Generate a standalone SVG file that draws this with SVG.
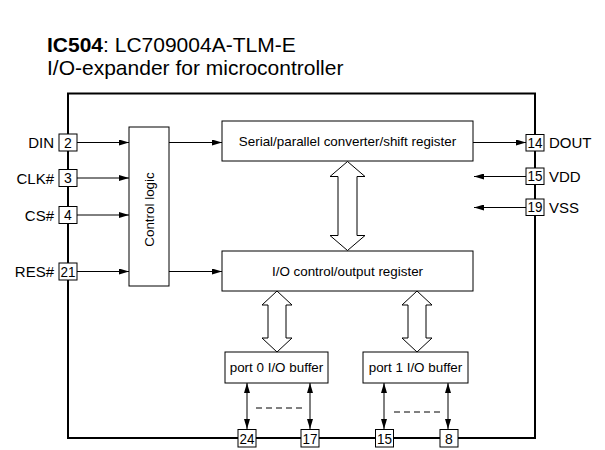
<svg xmlns="http://www.w3.org/2000/svg" width="605" height="450" viewBox="0 0 605 450">
<style>
text{font-family:"Liberation Sans",Arial,sans-serif;fill:#000}
.box{fill:#fff;stroke:#000;stroke-width:1}
.pin{fill:#fff;stroke:#000;stroke-width:1}
.ln{stroke:#000;stroke-width:1;fill:none}
.big{fill:#fff;stroke:#000;stroke-width:1}
.lbl{font-size:15px}
.num{font-size:14px}
.blk{font-size:13.4px}
</style>
<defs>
<marker id="ah" viewBox="0 0 10 6" refX="10" refY="3" markerWidth="10" markerHeight="6" markerUnits="userSpaceOnUse" orient="auto-start-reverse">
<path d="M0,0 L10,3 L0,6 Z" fill="#000"/>
</marker>
</defs>
<rect width="605" height="450" fill="#fff"/>
<g id="title">
<text x="47" y="52" font-size="21"><tspan font-weight="bold">IC504</tspan>: LC709004A-TLM-E</text>
<text x="47" y="75" font-size="21">I/O-expander for microcontroller</text>
</g>
<g id="chip">
<rect x="68" y="93.5" width="467" height="344.5" fill="none" stroke="#000" stroke-width="2"/>
</g>
<g id="connectors">
<line class="ln" x1="77" y1="142.5" x2="129" y2="142.5" marker-end="url(#ah)"/>
<line class="ln" x1="77" y1="178" x2="129" y2="178" marker-end="url(#ah)"/>
<line class="ln" x1="77" y1="215" x2="129" y2="215" marker-end="url(#ah)"/>
<line class="ln" x1="77" y1="271.5" x2="129" y2="271.5" marker-end="url(#ah)"/>
<line class="ln" x1="169" y1="142.5" x2="222" y2="142.5" marker-end="url(#ah)"/>
<line class="ln" x1="169" y1="271.5" x2="222" y2="271.5" marker-end="url(#ah)"/>
<line class="ln" x1="473" y1="142.5" x2="526" y2="142.5" marker-end="url(#ah)"/>
<line class="ln" x1="526" y1="176.5" x2="474" y2="176.5" marker-end="url(#ah)"/>
<line class="ln" x1="526" y1="207.5" x2="474" y2="207.5" marker-end="url(#ah)"/>
<polygon class="big" points="347.5,161.5 365,176.5 357,176.5 357,235.5 365,235.5 347.5,250.5 330,235.5 338,235.5 338,176.5 330,176.5"/>
<polygon class="big" points="277,291 292,305 286,305 286,338 292,338 277,352 262,338 268,338 268,305 262,305"/>
<polygon class="big" points="417,291 432,305 426,305 426,338 432,338 417,352 402,338 408,338 408,305 402,305"/>
<line class="ln" x1="247" y1="383" x2="247" y2="429" marker-start="url(#ah)" marker-end="url(#ah)"/>
<line class="ln" x1="310" y1="383" x2="310" y2="429" marker-start="url(#ah)" marker-end="url(#ah)"/>
<line class="ln" x1="384" y1="383" x2="384" y2="429" marker-start="url(#ah)" marker-end="url(#ah)"/>
<line class="ln" x1="448" y1="383" x2="448" y2="429" marker-start="url(#ah)" marker-end="url(#ah)"/>
<line class="ln" x1="256" y1="408" x2="302" y2="408" stroke-dasharray="6 4"/>
<line class="ln" x1="394" y1="412" x2="440" y2="412" stroke-dasharray="6 4"/>
</g>
<g id="control-logic">
<rect class="box" x="129" y="127" width="40" height="159"/>
<text class="blk" transform="translate(154,209.5) rotate(-90)" text-anchor="middle">Control logic</text>
</g>
<g id="serial-register">
<rect class="box" x="222" y="121" width="251" height="40"/>
<text class="blk" x="347.5" y="146" text-anchor="middle">Serial/parallel converter/shift register</text>
</g>
<g id="io-control-register">
<rect class="box" x="222" y="251" width="251" height="40"/>
<text class="blk" x="347.5" y="276" text-anchor="middle">I/O control/output register</text>
</g>
<g id="port0-buffer">
<rect class="box" x="225" y="352" width="103" height="31"/>
<text class="blk" x="276.5" y="372" text-anchor="middle">port 0 I/O buffer</text>
</g>
<g id="port1-buffer">
<rect class="box" x="363" y="352" width="105" height="31"/>
<text class="blk" x="415.5" y="372" text-anchor="middle">port 1 I/O buffer</text>
</g>
<g id="pin-din">
<rect class="pin" x="59" y="134" width="18" height="17"/>
<text class="num" x="68" y="147.5" text-anchor="middle">2</text>
<text class="lbl" x="54" y="148" text-anchor="end">DIN</text>
</g>
<g id="pin-clk">
<rect class="pin" x="59" y="169.5" width="18" height="17"/>
<text class="num" x="68" y="183" text-anchor="middle">3</text>
<text class="lbl" x="54" y="183.5" text-anchor="end">CLK#</text>
</g>
<g id="pin-cs">
<rect class="pin" x="59" y="206.5" width="18" height="17"/>
<text class="num" x="68" y="220" text-anchor="middle">4</text>
<text class="lbl" x="54" y="220.5" text-anchor="end">CS#</text>
</g>
<g id="pin-res">
<rect class="pin" x="59" y="263" width="18" height="17"/>
<text class="num" x="68" y="276.5" text-anchor="middle" textLength="15" lengthAdjust="spacingAndGlyphs">21</text>
<text class="lbl" x="54" y="277" text-anchor="end">RES#</text>
</g>
<g id="pin-dout">
<rect class="pin" x="526" y="134.5" width="18" height="16.5"/>
<text class="num" x="535" y="147.5" text-anchor="middle" textLength="15" lengthAdjust="spacingAndGlyphs">14</text>
<text class="lbl" x="549" y="148" >DOUT</text>
</g>
<g id="pin-vdd">
<rect class="pin" x="526" y="168" width="18" height="16.5"/>
<text class="num" x="535" y="181" text-anchor="middle" textLength="15" lengthAdjust="spacingAndGlyphs">15</text>
<text class="lbl" x="549" y="181.5">VDD</text>
</g>
<g id="pin-vss">
<rect class="pin" x="526" y="199" width="18" height="16.5"/>
<text class="num" x="535" y="212" text-anchor="middle" textLength="15" lengthAdjust="spacingAndGlyphs">19</text>
<text class="lbl" x="549" y="212.5">VSS</text>
</g>
<g id="pin-24">
<rect class="pin" x="238" y="429.5" width="18" height="17.5"/>
<text class="num" x="247" y="443.5" text-anchor="middle" textLength="15" lengthAdjust="spacingAndGlyphs">24</text>
</g>
<g id="pin-17">
<rect class="pin" x="301" y="429.5" width="18" height="17.5"/>
<text class="num" x="310" y="443.5" text-anchor="middle" textLength="15" lengthAdjust="spacingAndGlyphs">17</text>
</g>
<g id="pin-15b">
<rect class="pin" x="375.5" y="429.5" width="18" height="17.5"/>
<text class="num" x="384.5" y="443.5" text-anchor="middle" textLength="15" lengthAdjust="spacingAndGlyphs">15</text>
</g>
<g id="pin-8">
<rect class="pin" x="440" y="429.5" width="18" height="17.5"/>
<text class="num" x="449" y="443.5" text-anchor="middle">8</text>
</g>
</svg>
